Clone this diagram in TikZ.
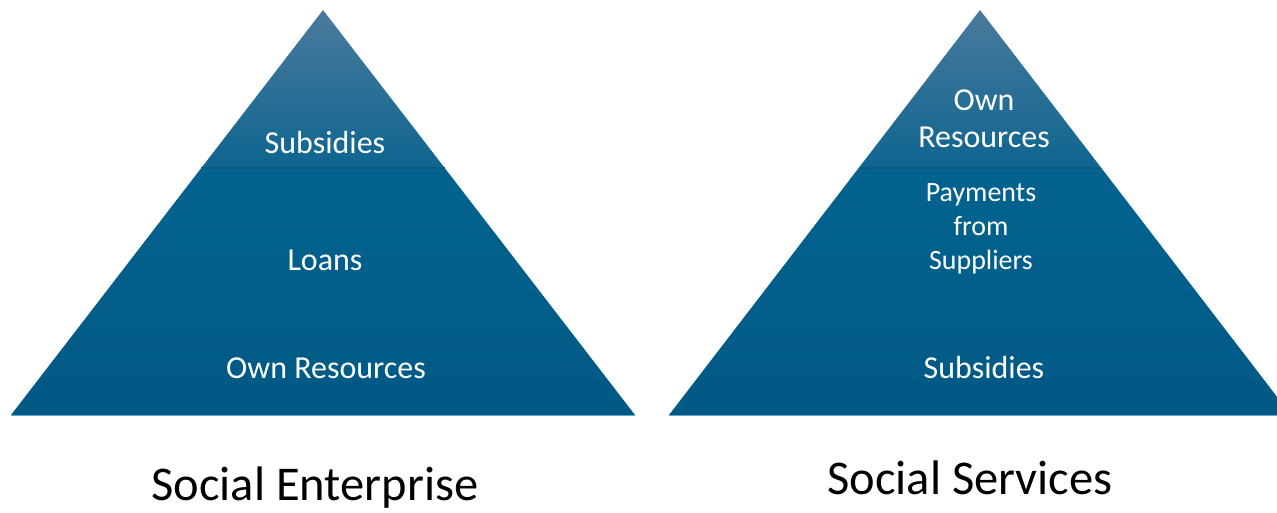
\documentclass[tikz,border=0pt]{standalone}
\usepackage{fontspec}
\setmainfont{Carlito}
\usetikzlibrary{calc}
\definecolor{tipblue}{HTML}{4A7A9D}
\definecolor{midblue}{HTML}{0E6590}
\definecolor{bandblue}{HTML}{03638F}
\definecolor{baseblue}{HTML}{015984}
\definecolor{seamblue}{HTML}{0A5780}
\definecolor{rimblue}{HTML}{5FA8CF}

\begin{document}
\begin{tikzpicture}[x=0.02cm,y=-0.02cm,
  lbl/.style={text=white,font=\fontsize{18.2}{21}\selectfont,align=center},
  small/.style={text=white,font=\fontsize{15.9}{19.3}\selectfont,align=center},
  title/.style={text=black,font=\fontsize{27.6}{32}\selectfont}]
 \useasboundingbox (0,0) rectangle (1277,512);
 \clip (0,0) rectangle (1277,512);

 % left pyramid
 \coordinate (topL) at (323,10);
 \coordinate (leftL) at (11,415);
 \coordinate (rightL) at (635,415);
 \coordinate (bandLl) at ($(topL)!0.39!(leftL)$);
 \coordinate (bandLr) at ($(topL)!0.39!(rightL)$);
 \shade[top color=tipblue, bottom color=midblue] (topL) -- (bandLl) -- (bandLr) -- cycle;
 \shade[top color=bandblue, bottom color=baseblue] (bandLl) -- (leftL) -- (rightL) -- (bandLr) -- cycle;
 \draw[seamblue, line width=1pt] (bandLl) -- (bandLr);
 \draw[rimblue, line width=0.5pt] (leftL) -- (rightL);
 \path (325,143) node[lbl](subsL){Subsidies};
 \path (325,260) node[lbl](loansL){Loans};
 \path (326,368) node[lbl](ownL){Own Resources};
 \path (315,488) node[title](enterprise){Social Enterprise};

 % right pyramid
 \coordinate (topR) at (980,10);
 \coordinate (leftR) at (669,415);
 \coordinate (rightR) at (1291,415);
 \coordinate (bandRl) at ($(topR)!0.39!(leftR)$);
 \coordinate (bandRr) at ($(topR)!0.39!(rightR)$);
 \shade[top color=tipblue, bottom color=midblue] (topR) -- (bandRl) -- (bandRr) -- cycle;
 \shade[top color=bandblue, bottom color=baseblue] (bandRl) -- (leftR) -- (rightR) -- (bandRr) -- cycle;
 \draw[seamblue, line width=1pt] (bandRl) -- (bandRr);
 \draw[rimblue, line width=0.5pt] (leftR) -- (rightR);
 \path (984,119) node[lbl](ownR){Own\\Resources};
 \path (981,229) node[small](payR){Payments\\from\\Suppliers};
 \path (984,368) node[lbl](subsR){Subsidies};
 \path (970,478) node[title](services){Social Services};
\end{tikzpicture}
\end{document}
